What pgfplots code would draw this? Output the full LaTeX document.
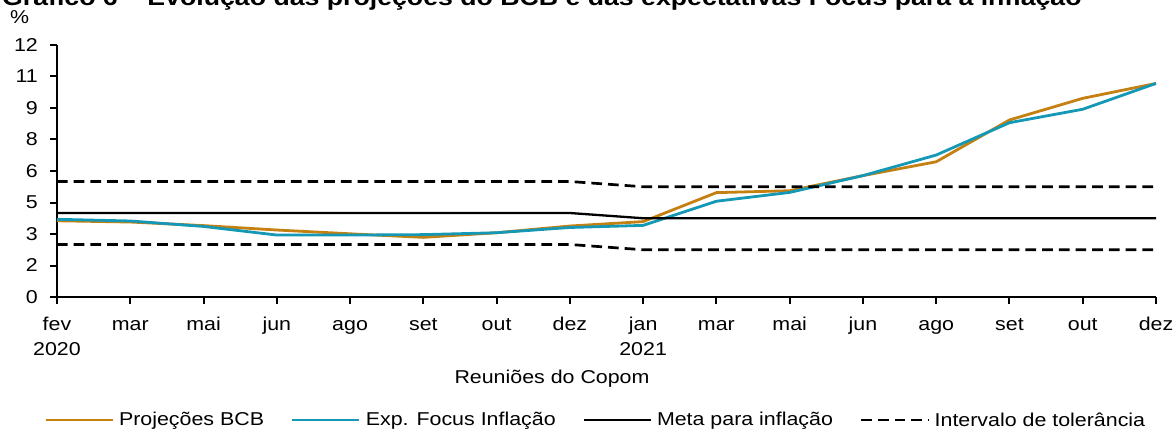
\documentclass[border=0pt]{standalone}
\usepackage{fontspec}
\setmainfont{Liberation Sans}
\usepackage{graphicx}
\usepackage{pgfplots}
\pgfplotsset{compat=1.18}
\definecolor{bcb}{RGB}{196,128,16}
\definecolor{focus}{RGB}{20,152,181}
\newcommand\f{\fontsize{18.6}{25}\selectfont}
\newcommand\sx[1]{\scalebox{1.15}[1]{#1}}
\begin{document}
\begin{tikzpicture}
\begin{axis}[
  scale only axis,
  width=1099pt, height=252pt,
  xmin=0, xmax=15, ymin=0, ymax=12,
  axis lines=left,
  axis line style={line width=2pt, -},
  xtick={0,...,15},
  xticklabels={{\strut\sx{fev}\\\sx{2020}},\strut\sx{mar},\strut\sx{mai},\strut\sx{jun},\strut\sx{ago},\strut\sx{set},\strut\sx{out},\strut\sx{dez},{\strut\sx{jan}\\\sx{2021}},\strut\sx{mar},\strut\sx{mai},\strut\sx{jun},\strut\sx{ago},\strut\sx{set},\strut\sx{out},\strut\sx{dez}},
  ytick={0,1.5,3,4.5,6,7.5,9,10.5,12},
  yticklabels={\sx{0},\sx{2},\sx{3},\sx{5},\sx{6},\sx{8},\sx{9},\sx{11},\sx{12}},
  tick align=outside,
  major tick length=7pt,
  tick style={line width=2pt, black},
  tick label style={font=\f},
  xticklabel style={align=center, inner sep=0pt, anchor=north, yshift=-8.5pt},
  yticklabel style={inner sep=0pt, anchor=east, xshift=-12pt},
  legend columns=4,
  legend style={draw=none, fill=none, font=\f, inner sep=0pt,
    at={(rel axis cs:-0.0118,-0.488)}, anchor=west,
    nodes={inner sep=0pt},
    /tikz/every odd column/.style={column sep=5pt},
    /tikz/every even column/.style={column sep=27pt}},
  legend image code/.code={\draw[#1] (0pt,0pt) -- (67pt,0pt);},
  clip=false,
]
\addplot[bcb, line width=2.8pt] coordinates {
(0,3.63) (1,3.57) (2,3.40) (3,3.19) (4,3.01) (5,2.84) (6,3.06) (7,3.38)
(8,3.59) (9,4.97) (10,5.06) (11,5.78) (12,6.44) (13,8.43) (14,9.46) (15,10.17)};
\addlegendentry{\sx{Projeções BCB}}
\addplot[focus, line width=2.8pt] coordinates {
(0,3.70) (1,3.62) (2,3.36) (3,2.95) (4,2.95) (5,2.97) (6,3.06) (7,3.31)
(8,3.41) (9,4.56) (10,4.98) (11,5.78) (12,6.76) (13,8.30) (14,8.94) (15,10.17)};
\addlegendentry{\sx{Exp. Focus Inflação}}
\addplot[black, line width=2.3pt] coordinates {
(0,4) (1,4) (2,4) (3,4) (4,4) (5,4) (6,4) (7,4)
(8,3.75) (9,3.75) (10,3.75) (11,3.75) (12,3.75) (13,3.75) (14,3.75) (15,3.75)};
\addlegendentry{\sx{Meta para inflação}}
\addplot[black, line width=2.7pt, dash pattern=on 10.7pt off 6pt] coordinates {
(0,5.5) (1,5.5) (2,5.5) (3,5.5) (4,5.5) (5,5.5) (6,5.5) (7,5.5)
(8,5.25) (9,5.25) (10,5.25) (11,5.25) (12,5.25) (13,5.25) (14,5.25) (15,5.25)};
\addlegendentry{\sx{Intervalo de tolerância}}
\addplot[black, line width=2.7pt, dash pattern=on 10.7pt off 6pt, forget plot] coordinates {
(0,2.5) (1,2.5) (2,2.5) (3,2.5) (4,2.5) (5,2.5) (6,2.5) (7,2.5)
(8,2.25) (9,2.25) (10,2.25) (11,2.25) (12,2.25) (13,2.25) (14,2.25) (15,2.25)};
\end{axis}
\node[anchor=base, font=\f, inner sep=0pt] at (495pt,-86pt) {\sx{Reuniões do Copom}};
\node[anchor=base west, font=\f, inner sep=0pt] at (-47pt,273.5pt) {\sx{\%}};
\node[anchor=base west, font=\bfseries\fontsize{23.2}{28}\selectfont, inner sep=0pt] at (-55pt,291.5pt) {\sx{Gráfico 6 – Evolução das projeções do BCB e das expectativas Focus para a inflação}};
\pgfresetboundingbox
\useasboundingbox (-57pt,-131pt) rectangle (1117pt,297pt);
\end{tikzpicture}
\end{document}
